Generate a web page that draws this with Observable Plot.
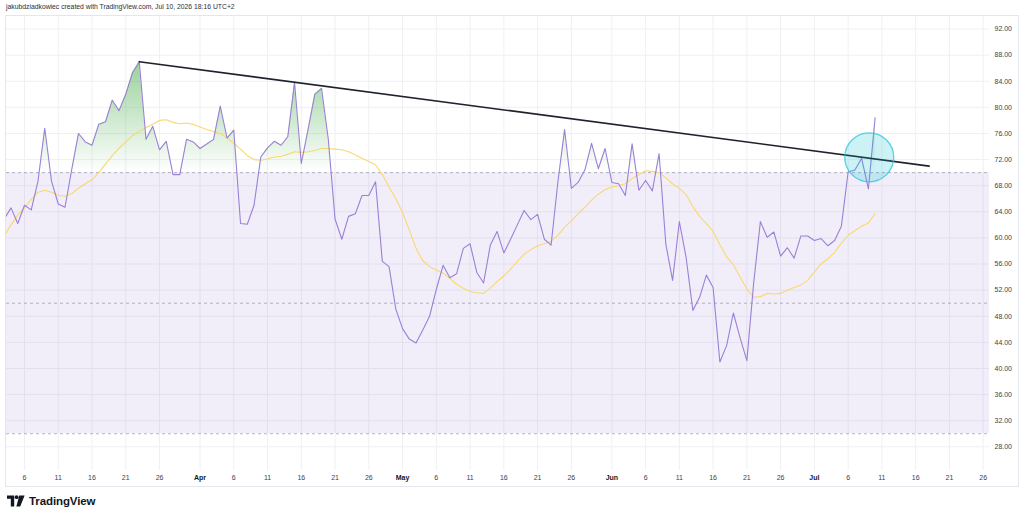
<!DOCTYPE html>
<html>
<head>
<meta charset="utf-8">
<script src="https://cdn.jsdelivr.net/npm/d3@7"></script>
<script src="https://cdn.jsdelivr.net/npm/@observablehq/plot@0.6"></script>
<style>
  html, body { margin: 0; padding: 0; background: #ffffff; width: 1024px; height: 520px; overflow: hidden;
    font-family: "Liberation Sans", Arial, sans-serif; }
  #hdr { position: absolute; left: 6px; top: 3px; font-size: 6.8px; color: #2a2e39; white-space: nowrap; }
  #wrap { position: absolute; left: 5px; top: 15px; width: 1012px; height: 470px; border: 1px solid #e3e6ec; }
  #foot { position: absolute; left: 7px; top: 495px; display: flex; align-items: center; gap: 4px;
    font-weight: 700; font-size: 11.5px; color: #131722; letter-spacing: -0.1px; }
</style>
</head>
<body>
<div id="hdr">jakubdziadkowiec created with TradingView.com, Jul 10, 2026 18:16 UTC+2</div>
<div id="wrap"></div>
<div id="foot">
  <svg width="18" height="12" viewBox="0 0 18 12">
    <path d="M0 0.5 H7.2 V11.5 H3.8 V3.8 H0 Z" fill="#131722"/>
    <circle cx="9.6" cy="2.2" r="1.9" fill="#131722"/>
    <path d="M12.2 0.5 H17.6 L13.2 11.5 H9.4 Z" fill="#131722"/>
  </svg>
  <span>TradingView</span>
</div>
<script>
// ---- data ----
const firstDay = "2026-03-03";   // daily bars, Mar 3 .. Jul 10 2026

const rsiValues = [
  62.9, 64.6, 62.2, 65.0, 64.3, 68.7, 76.8, 68.7, 65.2, 64.7,
  70.5, 76.0, 74.7, 74.2, 77.4, 77.8, 81.1, 79.5, 82.0, 85.3,
  87.0, 75.1, 77.1, 73.5, 74.8, 69.7, 69.7, 75.1, 74.7, 73.7,
  74.4, 75.1, 80.2, 75.3, 76.5, 62.2, 62.1, 65.0, 72.4, 73.8,
  74.8, 74.2, 75.5, 83.8, 71.4, 76.6, 82.0, 82.9, 75.1, 62.9,
  59.8, 63.3, 63.7, 66.5, 66.5, 68.6, 56.4, 55.6, 49.1, 46.1,
  44.5, 43.9, 45.9, 48.0, 52.1, 55.8, 53.9, 54.5, 58.4, 59.1,
  54.7, 53.1, 58.9, 61.0, 57.7, 59.8, 62.0, 64.2, 62.8, 63.6,
  59.8, 58.9, 68.5, 76.6, 67.6, 68.5, 70.4, 74.5, 70.6, 73.7,
  68.5, 68.3, 66.5, 74.4, 67.3, 68.8, 67.2, 72.9, 59.0, 53.5,
  62.5, 57.0, 48.9, 50.9, 54.3, 52.4, 41.0, 43.5, 48.5, 44.7,
  41.2, 53.0, 62.5, 60.1, 60.9, 57.2, 58.5, 56.9, 60.3, 60.3,
  59.6, 59.9, 58.8, 59.6, 61.8, 70.1, 70.4, 72.2, 67.5, 78.4
];

const rsiMAValues = [
  60.3, 62.0, 63.5, 64.6, 65.9, 67.0, 67.3, 67.0, 66.5, 66.4,
  66.8, 67.6, 68.3, 68.9, 70.0, 71.3, 72.6, 73.7, 74.7, 75.7,
  76.3, 76.9, 77.4, 78.0, 78.1, 77.7, 77.5, 77.6, 77.4, 77.0,
  76.6, 76.3, 76.0, 75.3, 74.5, 73.6, 72.6, 72.0, 71.9, 72.1,
  72.4, 72.5, 72.8, 73.2, 73.1, 73.2, 73.4, 73.7, 73.7, 73.6,
  73.5, 73.2, 72.7, 72.2, 71.7, 71.2, 69.7, 67.8, 66.0, 63.9,
  61.2, 58.4, 56.5, 55.6, 55.1, 54.6, 53.8, 52.9, 52.3, 51.8,
  51.6, 51.5, 52.3, 53.3, 54.2, 55.2, 56.4, 57.5, 58.2, 58.8,
  59.1, 59.5, 60.4, 61.6, 62.6, 63.7, 64.7, 65.8, 66.7, 67.4,
  67.8, 68.0, 68.3, 69.1, 69.7, 70.3, 70.2, 70.0, 69.2, 68.3,
  67.6, 66.6, 64.8, 63.3, 62.2, 61.0, 59.0, 57.1, 55.9, 54.0,
  52.2, 50.9, 51.0, 51.5, 51.4, 51.5, 52.0, 52.4, 52.8, 53.5,
  54.8, 56.0, 56.8, 57.8, 59.2, 60.4, 61.1, 61.8, 62.3, 63.7
];

const levelLines = [70, 50, 30];
const bandLimits = [30, 70];
const overboughtGradientTop = 100;

const trendDates = ["2026-03-23", "2026-07-18"];
const trendValues = [87.0, 71.0];

const circleDate = "2026-07-09T03:00:00Z";
const circleValue = 72.35;

const yTickValues = [28, 32, 36, 40, 44, 48, 52, 56, 60, 64, 68, 72, 76, 80, 84, 88, 92];

const xTickDates = [
  "2026-03-06", "2026-03-11", "2026-03-16", "2026-03-21", "2026-03-26",
  "2026-04-01", "2026-04-06", "2026-04-11", "2026-04-16", "2026-04-21", "2026-04-26",
  "2026-05-01", "2026-05-06", "2026-05-11", "2026-05-16", "2026-05-21", "2026-05-26",
  "2026-06-01", "2026-06-06", "2026-06-11", "2026-06-16", "2026-06-21", "2026-06-26",
  "2026-07-01", "2026-07-06", "2026-07-11", "2026-07-16", "2026-07-21", "2026-07-26"
];
const xTickLabels = [
  "6", "11", "16", "21", "26",
  "Apr", "6", "11", "16", "21", "26",
  "May", "6", "11", "16", "21", "26",
  "Jun", "6", "11", "16", "21", "26",
  "Jul", "6", "11", "16", "21", "26"
];

// ---- build tables ----
const day0 = new Date(firstDay + "T00:00:00Z");
const table = rsiValues.map((v, i) => ({
  date: d3.utcDay.offset(day0, i),
  rsi: v,
  ma: rsiMAValues[i]
}));
const trend = trendDates.map((d, i) => ({ date: new Date(d + "T00:00:00Z"), value: trendValues[i] }));
const circle = [{ date: new Date(circleDate), value: circleValue }];
const xTicks = xTickDates.map(d => new Date(d + "T00:00:00Z"));
const labelOf = new Map(xTicks.map((d, i) => [+d, xTickLabels[i]]));
const isMonth = d => /^[A-Za-z]/.test(labelOf.get(+d));
const dayTicks = xTicks.filter(d => !isMonth(d));
const monthTicks = xTicks.filter(isMonth);

const DAY = 864e5;
const ref = new Date("2026-03-06T00:00:00Z");
const xDomain = [new Date(+ref - 2.666 * DAY), new Date(+ref + 142.94 * DAY)];

const chart = Plot.plot({
  width: 1012,
  height: 470,
  marginLeft: 0,
  marginRight: 29,
  marginTop: 0,
  marginBottom: 16,
  style: { fontFamily: "'Liberation Sans', Arial, sans-serif", fontSize: "7px", color: "#3b3f4b", background: "transparent" },
  x: { type: "utc", domain: xDomain, label: null },
  y: { domain: [24.37, 93.92], label: null },
  marks: [
    Plot.gridX(xTicks, { stroke: "#eef0f4", strokeOpacity: 1 }),
    Plot.gridY(yTickValues, { stroke: "#eef0f4", strokeOpacity: 1 }),
    Plot.rect([bandLimits], { y1: d => d[0], y2: d => d[1], fill: "#7E57C2", fillOpacity: 0.1 }),
    Plot.ruleY(levelLines, { stroke: "#787B86", strokeOpacity: 0.55, strokeDasharray: "3,3" }),
    Plot.areaY(table, { x: "date", y1: levelLines[0], y2: "rsi", fill: "url(#obGrad)", clip: true }),
    Plot.lineY(table, { x: "date", y: "ma", stroke: "#F8D96E", strokeWidth: 1.1, clip: true }),
    Plot.lineY(table, { x: "date", y: "rsi", stroke: "#9A80D6", strokeWidth: 1.1, clip: true }),
    Plot.line(trend, { x: "date", y: "value", stroke: "#1e222d", strokeWidth: 1.6 }),
    Plot.dot(circle, { x: "date", y: "value", r: 24.5, fill: "#00BCD4", fillOpacity: 0.2, stroke: "#26C6DA", strokeOpacity: 0.75, strokeWidth: 1.3 }),
    Plot.axisX(dayTicks, { tickSize: 0, tickPadding: 5, tickFormat: d => labelOf.get(+d) }),
    Plot.axisX(monthTicks, { tickSize: 0, tickPadding: 5, fontWeight: "bold", fill: "#131722", tickFormat: d => labelOf.get(+d) }),
    Plot.axisY(yTickValues, { anchor: "right", tickSize: 0, tickPadding: 5, textAnchor: "start", tickFormat: d3.format(".2f") })
  ]
});

// overbought gradient (green at 100 fading to transparent at 70), placed with the y scale
const ys = chart.scale("y");
const NS = "http://www.w3.org/2000/svg";
const defs = document.createElementNS(NS, "defs");
const grad = document.createElementNS(NS, "linearGradient");
grad.setAttribute("id", "obGrad");
grad.setAttribute("gradientUnits", "userSpaceOnUse");
grad.setAttribute("x1", 0); grad.setAttribute("x2", 0);
grad.setAttribute("y1", ys.apply(overboughtGradientTop));
grad.setAttribute("y2", ys.apply(levelLines[0]));
[[0, 1], [1, 0]].forEach(([off, op]) => {
  const s = document.createElementNS(NS, "stop");
  s.setAttribute("offset", off);
  s.setAttribute("stop-color", "#4CAF50");
  s.setAttribute("stop-opacity", op);
  grad.appendChild(s);
});
defs.appendChild(grad);
chart.insertBefore(defs, chart.firstChild);

document.getElementById("wrap").appendChild(chart);
</script>
</body>
</html>
